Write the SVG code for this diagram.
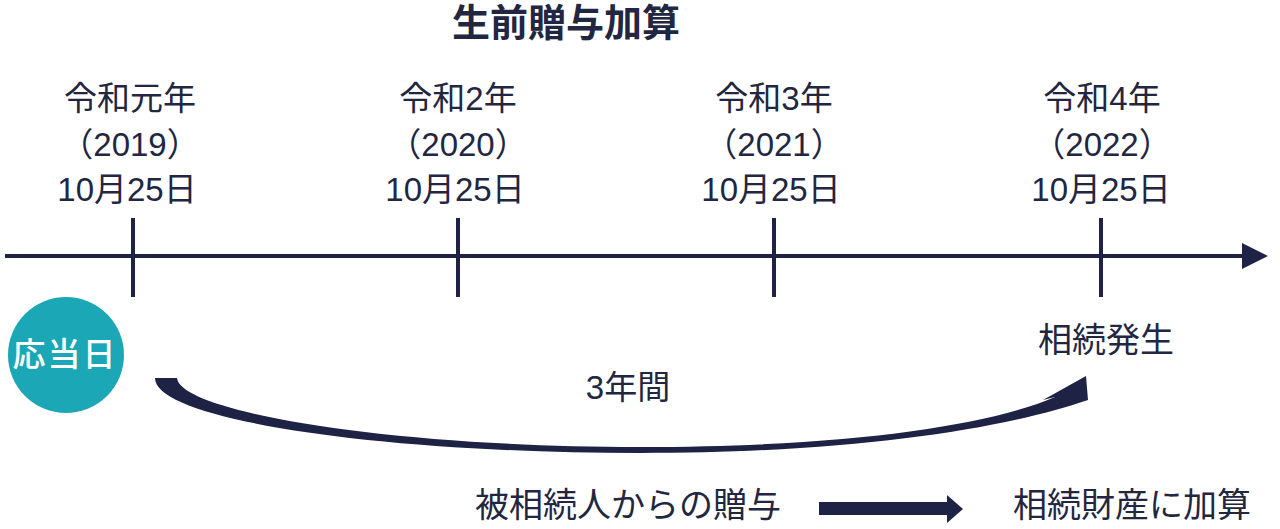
<svg xmlns="http://www.w3.org/2000/svg" width="1280" height="529" viewBox="0 0 1280 529">
<style>
.t{font-family:"Liberation Sans","Noto Sans CJK JP",sans-serif;font-size:33px;fill:#222641;text-anchor:middle}
.l{font-size:34px}
.b{font-weight:bold;font-size:38px}
.ln{stroke:#1e2244;stroke-width:4;fill:none}
.fill{fill:#1e2244}
</style>
<rect width="1280" height="529" fill="#ffffff"/>
<g id="title"><text class="t b" x="566" y="36">生前贈与加算</text></g>
<g id="connectors">
<line class="ln" x1="5" y1="256" x2="1244" y2="256"/>
<polygon class="fill" points="1242,243 1268,256 1242,269"/>
<line class="ln" x1="133" y1="218" x2="133" y2="297"/>
<line class="ln" x1="458" y1="218" x2="458" y2="297"/>
<line class="ln" x1="774" y1="218" x2="774" y2="297"/>
<line class="ln" x1="1101" y1="218" x2="1101" y2="297"/>
<path class="fill" d="M155,378 L177,378 C180,412 390,447 640,447 C850,447 990,425 1055,397 L1043,400 L1086,376 L1088,400 C1000,430 850,453 640,453 C380,453 155,420 155,378 Z"/>
<rect class="fill" x="819" y="502" width="129" height="13"/>
<polygon class="fill" points="947,495 963,509 947,523"/>
</g>
<g id="date1"><text class="t" x="130" y="110">令和元年</text><text class="t" x="130" y="156">（2019）</text><text class="t" x="127" y="201">10月25日</text></g>
<g id="date2"><text class="t" x="458" y="110">令和2年</text><text class="t" x="458" y="156">（2020）</text><text class="t" x="455" y="201">10月25日</text></g>
<g id="date3"><text class="t" x="774" y="110">令和3年</text><text class="t" x="774" y="156">（2021）</text><text class="t" x="771" y="201">10月25日</text></g>
<g id="date4"><text class="t" x="1102" y="110">令和4年</text><text class="t" x="1102" y="156">（2022）</text><text class="t" x="1101" y="201">10月25日</text></g>
<g id="anniversary"><circle cx="66" cy="355" r="58" fill="#1ba7b6"/><text class="t" x="65" y="366" style="fill:#ffffff;font-weight:500;letter-spacing:2px">応当日</text></g>
<g id="inheritance"><text class="t l" x="1106" y="352">相続発生</text></g>
<g id="period"><text class="t" x="628" y="399">3年間</text></g>
<g id="gift"><text class="t l" x="628" y="517">被相続人からの贈与</text></g>
<g id="added"><text class="t l" x="1132" y="517">相続財産に加算</text></g>
</svg>
